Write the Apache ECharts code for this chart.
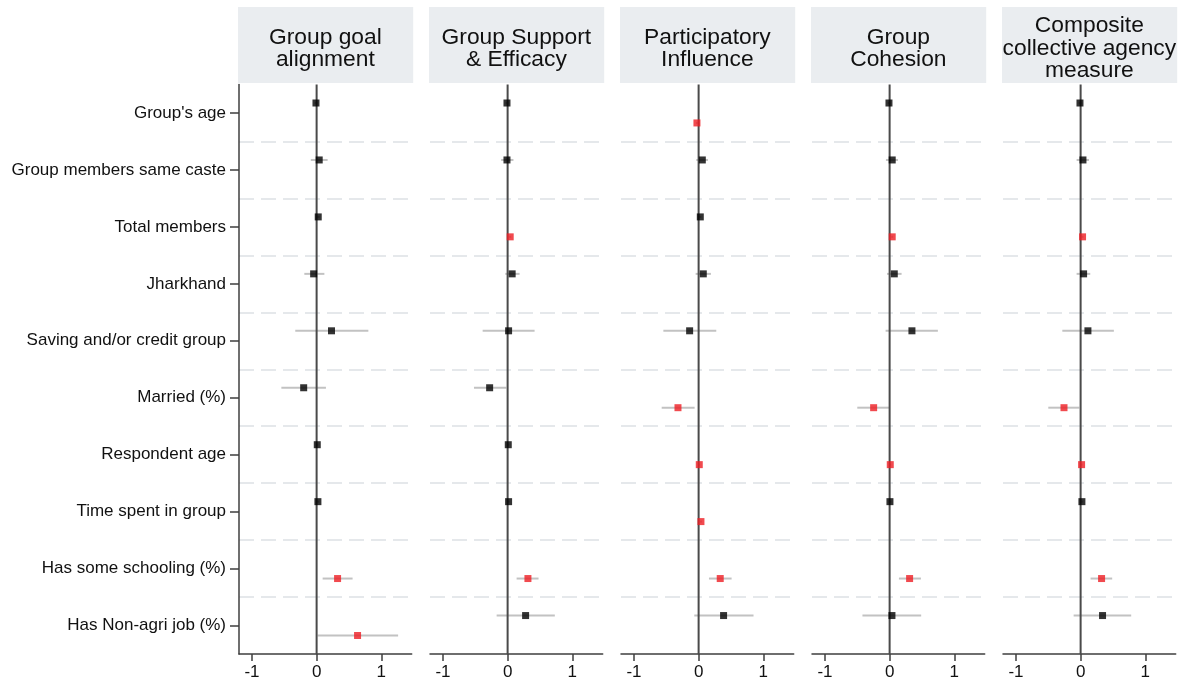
<!DOCTYPE html>
<html>
<head>
<meta charset="utf-8">
<script src="https://cdn.jsdelivr.net/npm/echarts@6/dist/echarts.min.js"></script>
<style>
  html, body { margin: 0; padding: 0; background: #ffffff; }
  #chart { width: 1188px; height: 687px; }
</style>
</head>
<body>
<div id="chart"></div>
<script>
// Covariates, listed top to bottom
const categories = [
  "Group's age",
  "Group members same caste",
  "Total members",
  "Jharkhand",
  "Saving and/or credit group",
  "Married (%)",
  "Respondent age",
  "Time spent in group",
  "Has some schooling (%)",
  "Has Non-agri job (%)"
];

const panelTitles = [
  'Group goal\nalignment',
  'Group Support\n& Efficacy',
  'Participatory\nInfluence',
  'Group\nCohesion',
  'Composite\ncollective agency\nmeasure'
];

const xTicks = [-1, 0, 1];

// Coefficients, 95% CI bounds and significance flag (1 = significant, drawn red)
const goalEst = [-0.01, 0.04, 0.025, -0.046, 0.23, -0.20, 0.01, 0.02, 0.324, 0.633];
const goalLo  = [-0.03, -0.09, 0.005, -0.19, -0.33, -0.545, -0.005, 0.0, 0.093, 0.015];
const goalHi  = [0.01, 0.17, 0.045, 0.12, 0.80, 0.144, 0.025, 0.04, 0.556, 1.26];
const goalSig = [0, 0, 0, 0, 0, 0, 0, 0, 1, 1];

const supportEst = [-0.01, -0.01, 0.04, 0.07, 0.015, -0.278, 0.01, 0.015, 0.314, 0.278];
const supportLo  = [-0.03, -0.10, 0.025, -0.036, -0.386, -0.52, -0.005, 0.0, 0.139, -0.17];
const supportHi  = [0.01, 0.09, 0.055, 0.185, 0.417, -0.02, 0.025, 0.03, 0.478, 0.73];
const supportSig = [0, 0, 1, 0, 0, 0, 0, 0, 1, 0];

const influenceEst = [-0.026, 0.057, 0.026, 0.072, -0.139, -0.319, 0.01, 0.036, 0.334, 0.386];
const influenceLo  = [-0.04, -0.036, 0.01, -0.046, -0.545, -0.571, -0.003, 0.02, 0.16, -0.067];
const influenceHi  = [-0.012, 0.144, 0.042, 0.19, 0.273, -0.062, 0.023, 0.052, 0.51, 0.849];
const influenceSig = [1, 0, 0, 0, 0, 1, 1, 1, 1, 0];

const cohesionEst = [-0.01, 0.04, 0.04, 0.072, 0.345, -0.247, 0.01, 0.005, 0.309, 0.036];
const cohesionLo  = [-0.03, -0.057, 0.025, -0.04, -0.062, -0.5, -0.003, -0.015, 0.144, -0.42];
const cohesionHi  = [0.01, 0.129, 0.055, 0.185, 0.746, -0.01, 0.023, 0.025, 0.484, 0.488];
const cohesionSig = [0, 0, 1, 0, 0, 1, 1, 0, 1, 0];

const compositeEst = [-0.01, 0.036, 0.03, 0.046, 0.113, -0.257, 0.015, 0.02, 0.324, 0.339];
const compositeLo  = [-0.03, -0.062, 0.015, -0.062, -0.283, -0.5, 0.002, 0.0, 0.154, -0.108];
const compositeHi  = [0.01, 0.129, 0.045, 0.149, 0.514, -0.02, 0.028, 0.04, 0.488, 0.782];
const compositeSig = [0, 0, 1, 0, 0, 1, 1, 0, 1, 0];

const panels = [
  { est: goalEst, lo: goalLo, hi: goalHi, sig: goalSig },
  { est: supportEst, lo: supportLo, hi: supportHi, sig: supportSig },
  { est: influenceEst, lo: influenceLo, hi: influenceHi, sig: influenceSig },
  { est: cohesionEst, lo: cohesionLo, hi: cohesionHi, sig: cohesionSig },
  { est: compositeEst, lo: compositeLo, hi: compositeHi, sig: compositeSig }
];

// Layout
const FONT = 'Liberation Sans, Arial, Helvetica, sans-serif';
const TEXT = '#111111';
const AXIS = '#3f3f3f';
const RED = '#ee1d23';
const BLACK = '#000000';
const CI_COLOR = '#c2c2c2';
const GRID_LEFT0 = 239;
const GRID_STEP = 191;
const GRID_W = 172.7;
const GRID_TOP = 84.5;
const GRID_H = 569.5;
const SHIFT = 0.175; // vertical offset of a marker from its row centre

const chart = echarts.init(document.getElementById('chart'), null, { renderer: 'canvas' });

const grids = [], xAxes = [], yAxes = [], series = [], graphics = [];

panels.forEach((p, i) => {
  const left = GRID_LEFT0 + GRID_STEP * i;
  grids.push({ left: left, top: GRID_TOP, width: GRID_W, height: GRID_H, containLabel: false });

  xAxes.push({
    type: 'value', gridIndex: i, min: -1.2, max: 1.47,
    splitLine: { show: false },
    axisLine: { show: true, onZero: false, lineStyle: { color: AXIS, width: 1.5 } },
    axisTick: { show: true, length: 7, customValues: xTicks, lineStyle: { color: AXIS, width: 1.5 } },
    axisLabel: { show: true, customValues: xTicks, margin: 10, fontFamily: FONT, fontSize: 17, color: TEXT,
                 formatter: v => String(v) }
  });

  // value axis carrying the marks and the dashed row separators
  const valueAxisIndex = yAxes.length;
  yAxes.push({
    type: 'value', gridIndex: i, min: 0, max: 10, interval: 1, inverse: true,
    axisLine: { show: false }, axisTick: { show: false }, axisLabel: { show: false },
    splitLine: { show: true, showMinLine: false, showMaxLine: false,
                 lineStyle: { color: '#dde1e5', width: 1.5, type: [15, 7] } }
  });
  if (i === 0) {
    yAxes.push({
      type: 'category', gridIndex: 0, data: categories, inverse: true, boundaryGap: true,
      position: 'left',
      axisLine: { show: true, lineStyle: { color: AXIS, width: 1.5 } },
      axisTick: { show: true, length: 9, alignWithLabel: true, lineStyle: { color: AXIS, width: 1.5 } },
      axisLabel: { show: true, margin: 13, fontFamily: FONT, fontSize: 17, color: TEXT },
      splitLine: { show: false }
    });
  }

  const ys = p.est.map((_, k) => k + 0.5 + (p.sig[k] ? SHIFT : -SHIFT));

  // confidence intervals
  series.push({
    type: 'custom', xAxisIndex: i, yAxisIndex: valueAxisIndex, z: 2, silent: true,
    data: p.est.map((_, k) => [p.lo[k], p.hi[k], ys[k]]),
    encode: { x: [0, 1], y: 2 },
    renderItem: (params, api) => {
      const a = api.coord([api.value(0), api.value(2)]);
      const b = api.coord([api.value(1), api.value(2)]);
      return { type: 'line', shape: { x1: a[0], y1: a[1], x2: b[0], y2: b[1] },
               style: { stroke: CI_COLOR, lineWidth: 2 } };
    }
  });

  // reference line at zero
  series.push({
    type: 'line', xAxisIndex: i, yAxisIndex: valueAxisIndex, z: 3, silent: true,
    data: [[0, 0], [0, 10]], symbol: 'none',
    lineStyle: { color: '#4a4a4a', width: 2 }
  });

  // point estimates
  series.push({
    type: 'scatter', xAxisIndex: i, yAxisIndex: valueAxisIndex, z: 4, silent: true,
    symbol: 'rect', symbolSize: 7,
    data: p.est.map((v, k) => ({ value: [v, ys[k]], itemStyle: { color: p.sig[k] ? RED : BLACK } }))
  });

  // panel header
  graphics.push({
    type: 'rect', z: 10,
    shape: { x: left - 1, y: 7, width: GRID_W + 2.5, height: 76 },
    style: { fill: '#eaedf0' }
  });
  graphics.push({
    type: 'text', z: 11,
    style: { text: panelTitles[i], x: left + GRID_W / 2, y: 48.5, align: 'center', verticalAlign: 'middle',
             fontFamily: FONT, fontSize: 22.8, lineHeight: 22.5, fill: TEXT }
  });
});

chart.setOption({
  animation: false,
  backgroundColor: '#ffffff',
  grid: grids,
  xAxis: xAxes,
  yAxis: yAxes,
  series: series,
  graphic: graphics
});
</script>
</body>
</html>
